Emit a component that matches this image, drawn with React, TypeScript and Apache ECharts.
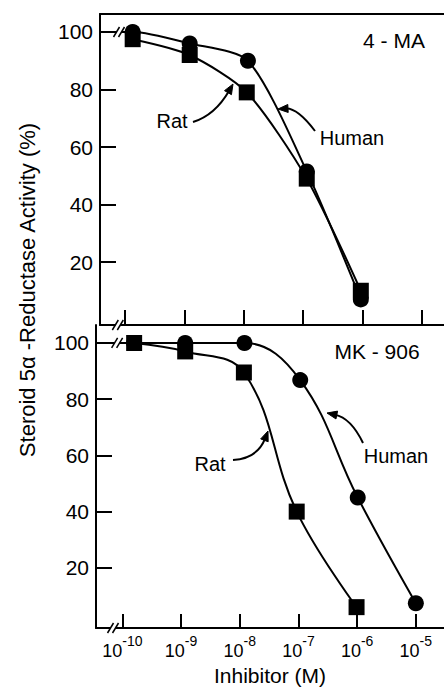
import React, { useEffect, useRef } from "react";
import * as echarts from "echarts";

// x values are log10 of the inhibitor concentration (M)
const tickExponents = [-10, -9, -8, -7, -6, -5];
const yTicks = [20, 40, 60, 80, 100];

// Upper panel: 4-MA
const maHumanX = [-9.87, -8.91, -7.93, -6.94, -6.03];
const maHumanY = [100, 96, 90, 51.5, 7];
const maRatX = [-9.87, -8.91, -7.95, -6.94, -6.03];
const maRatY = [97.5, 92, 79, 49, 10];

// Lower panel: MK-906
const mkHumanX = [-9.8, -8.93, -7.92, -6.97, -5.99, -5.0];
const mkHumanY = [100, 100, 100, 86.8, 45, 7.4];
const mkRatX = [-9.8, -8.93, -7.93, -7.03, -6.01];
const mkRatY = [100, 97, 89.5, 40, 6];

const controlLevel = 100;

const FONT = "'Liberation Sans', Arial, Helvetica, sans-serif";
const BLACK = "#000";

const topX = { min: -10.42, max: -4.63 };
const botX = { min: -10.45, max: -4.52 };
const topY = { min: -1.91, max: 106.26 };
const botY = { min: -1.42, max: 106.4 };

function pts(xs: number[], ys: number[]) {
  return xs.map((x, i) => [x, ys[i]]);
}

function arrow(p0: number[], m: number[], p2: number[]) {
  const c = [2 * m[0] - (p0[0] + p2[0]) / 2, 2 * m[1] - (p0[1] + p2[1]) / 2];
  const dx = p2[0] - c[0];
  const dy = p2[1] - c[1];
  const len = Math.hypot(dx, dy);
  const ux = dx / len;
  const uy = dy / len;
  const L = 10;
  const W = 4;
  const base = [p2[0] - ux * L, p2[1] - uy * L];
  const left = [base[0] - uy * W, base[1] + ux * W];
  const right = [base[0] + uy * W, base[1] - ux * W];
  return [
    {
      type: "bezierCurve",
      z: 100,
      shape: { x1: p0[0], y1: p0[1], x2: base[0] + ux * 2, y2: base[1] + uy * 2, cpx1: c[0], cpy1: c[1] },
      style: { stroke: BLACK, lineWidth: 2, fill: "none" },
    },
    {
      type: "polygon",
      z: 100,
      shape: { points: [p2, left, right] },
      style: { fill: BLACK, stroke: BLACK, lineWidth: 1 },
    },
  ];
}

function breakMark(cx: number, cy: number) {
  const els: any[] = [
    {
      type: "rect",
      z: 100,
      shape: { x: cx - 2.5, y: cy - 3, width: 5, height: 6 },
      style: { fill: "#fff" },
    },
  ];
  [-2.5, 2.5].forEach((o) => {
    els.push({
      type: "line",
      z: 101,
      shape: { x1: cx + o - 3, y1: cy + 5, x2: cx + o + 3, y2: cy - 5 },
      style: { stroke: BLACK, lineWidth: 1.5 },
    });
  });
  return els;
}

function label(text: string, x: number, y: number, size = 21) {
  return {
    type: "text",
    z: 100,
    x,
    y,
    style: {
      text,
      fill: BLACK,
      font: `${size}px ${FONT}`,
      align: "center",
      verticalAlign: "middle",
    },
  };
}

export default function App() {
  const ref = useRef<HTMLDivElement>(null);

  useEffect(() => {
    const chart = echarts.init(ref.current!, null, { renderer: "svg" });

    const axisLine = { show: true, onZero: false, lineStyle: { color: BLACK, width: 2 } };

    const yAxisBase = (gridIndex: number, r: { min: number; max: number }) => ({
      gridIndex,
      type: "value",
      min: r.min,
      max: r.max,
      axisLine,
      splitLine: { show: false },
      axisTick: {
        show: true,
        inside: true,
        length: 16,
        customValues: yTicks,
        lineStyle: { color: BLACK, width: 2 },
      },
      axisLabel: {
        customValues: yTicks,
        fontSize: 21,
        fontFamily: FONT,
        color: BLACK,
        margin: 7,
      },
    });

    const lineSeries = (
      name: string,
      xAxisIndex: number,
      yAxisIndex: number,
      data: any[],
      symbol: string,
      smooth: number
    ) => ({
      name,
      type: "line",
      xAxisIndex,
      yAxisIndex,
      data,
      symbol,
      symbolSize: 16,
      smooth,
      lineStyle: { color: BLACK, width: 2 },
      itemStyle: { color: BLACK, borderWidth: 0 },
      emphasis: { disabled: true },
    });

    const option: any = {
      animation: false,
      backgroundColor: "#fff",
      grid: [
        { left: 100, top: 14, width: 344, height: 311 },
        { left: 96, top: 325, width: 348, height: 303 },
      ],
      xAxis: [
        {
          gridIndex: 0,
          type: "value",
          position: "bottom",
          min: topX.min,
          max: topX.max,
          axisLine,
          splitLine: { show: false },
          axisTick: {
            show: true,
            inside: true,
            length: 15,
            customValues: tickExponents,
            lineStyle: { color: BLACK, width: 2 },
          },
          axisLabel: { show: false },
        },
        {
          gridIndex: 0,
          type: "value",
          position: "top",
          min: topX.min,
          max: topX.max,
          axisLine,
          splitLine: { show: false },
          axisTick: { show: false },
          axisLabel: { show: false },
        },
        {
          gridIndex: 1,
          type: "value",
          position: "bottom",
          min: botX.min,
          max: botX.max,
          axisLine,
          splitLine: { show: false },
          axisTick: {
            show: true,
            inside: true,
            length: 14,
            customValues: tickExponents,
            lineStyle: { color: BLACK, width: 2 },
          },
          axisLabel: {
            customValues: tickExponents,
            margin: 6,
            formatter: (v: number) => `{b|10}{s|${v}}`,
            rich: {
              b: { fontSize: 18, fontFamily: FONT, color: BLACK, lineHeight: 26, verticalAlign: "bottom" },
              s: { fontSize: 14, fontFamily: FONT, color: BLACK, lineHeight: 14, verticalAlign: "top" },
            },
          },
          name: "Inhibitor (M)",
          nameLocation: "middle",
          nameGap: 37,
          nameTextStyle: { fontSize: 21, fontFamily: FONT, color: BLACK, verticalAlign: "top" },
        },
      ],
      yAxis: [yAxisBase(0, topY), yAxisBase(1, botY)],
      series: [
        lineSeries(
          "4-MA Human",
          0,
          0,
          [{ value: [topX.min, controlLevel], symbol: "none" }, ...pts(maHumanX, maHumanY)],
          "circle",
          0.25
        ),
        lineSeries("4-MA Rat", 0, 0, pts(maRatX, maRatY), "rect", 0.25),
        lineSeries(
          "MK-906 Human",
          2,
          1,
          [{ value: [botX.min, controlLevel], symbol: "none" }, ...pts(mkHumanX, mkHumanY)],
          "circle",
          0.4
        ),
        lineSeries("MK-906 Rat", 2, 1, pts(mkRatX, mkRatY), "rect", 0.4),
      ],
    };

    chart.setOption(option);

    const py = (yi: number, v: number) => chart.convertToPixel({ yAxisIndex: yi } as any, v) as number;
    const px = (xi: number, v: number) => chart.convertToPixel({ xAxisIndex: xi } as any, v) as number;

    const graphics: any[] = [
      ...breakMark(px(0, -10.1), py(0, controlLevel)),
      ...breakMark(px(0, -10.12), py(0, topY.min)),
      ...breakMark(px(2, -10.09), py(1, controlLevel)),
      ...breakMark(px(2, -10.16), py(1, botY.min)),
      label("4 - MA", 394, 40),
      label("Rat", 172, 121, 20),
      label("Human", 352, 138, 20),
      label("MK - 906", 377, 351),
      label("Rat", 210, 464, 20),
      label("Human", 396, 456, 20),
      ...arrow([193, 122], [214, 109], [233, 84]),
      ...arrow([315, 131], [297, 114], [278, 109]),
      ...arrow([233, 460], [254, 452], [268, 431]),
      ...arrow([363, 443], [348, 423], [327, 413]),
      {
        type: "text",
        z: 100,
        x: 27,
        y: 290,
        rotation: Math.PI / 2,
        style: {
          text: "Steroid 5α -Reductase Activity (%)",
          fill: BLACK,
          font: `22px ${FONT}`,
          align: "center",
          verticalAlign: "middle",
        },
      },
    ];

    chart.setOption({ graphic: graphics });

    return () => chart.dispose();
  }, []);

  return (
    <div
      ref={ref}
      style={{ position: "fixed", left: 0, top: 0, width: 444, height: 689 }}
    />
  );
}
